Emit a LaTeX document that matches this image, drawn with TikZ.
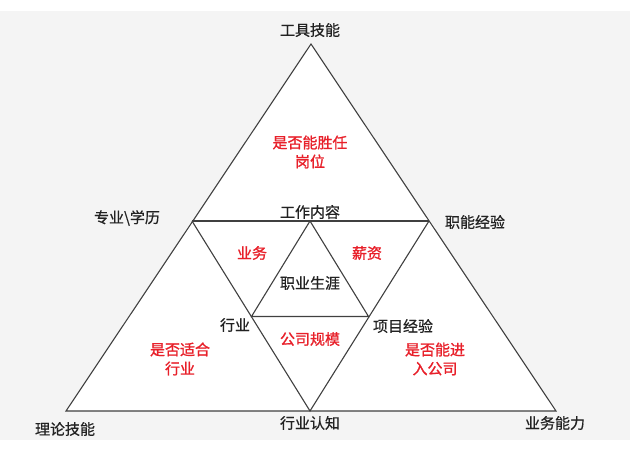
\documentclass[tikz,border=0pt]{standalone}
\usepackage{fontspec}
\setmainfont{Noto Sans CJK SC}
\newfontfamily\lblfont[FakeBold=0.6]{Noto Sans CJK SC}
\newfontfamily\redfont[FakeBold=1.2]{Noto Sans CJK SC}
\definecolor{bggray}{HTML}{F4F4F4}
\definecolor{linegray}{HTML}{404040}
\definecolor{txtred}{HTML}{E8202A}
\definecolor{txtblack}{HTML}{222222}
\tikzset{
  edge/.style={draw=linegray, line width=1.1pt, line join=miter},
  lbl/.style={text=txtblack, font=\lblfont\fontsize{15}{17}\selectfont, inner sep=0pt, align=center},
  rlbl/.style={text=txtred, font=\redfont\fontsize{15}{19}\selectfont, inner sep=0pt, align=center}
}
\begin{document}
\begin{tikzpicture}[x=1pt,y=-1pt]
\useasboundingbox (0,0) rectangle (630,449);
\fill[bggray] (0,11) rectangle (630,440);
\coordinate (A) at (311,44);
\coordinate (B) at (66,411);
\coordinate (C) at (556,411);
\coordinate (L) at (192,221);
\coordinate (R) at (429,221);
\coordinate (M) at (310,411);
\coordinate (I) at (310,221);
\coordinate (P) at (251.5,316.5);
\coordinate (Q) at (368.5,316.5);
\filldraw[edge, fill=white] (A) -- (B) -- (C) -- cycle;
\draw[edge] (L) -- (R);
\draw[edge] (L) -- (M) -- (R);
\draw[edge] (I) -- (P) -- (Q) -- cycle;
% labels
\node[lbl] (t1) at (310,30) {工具技能};
\node[rlbl] (t2) at (310,152) {是否能胜任\\岗位};
\node[lbl] (t3) at (127,218) {专业\textbackslash 学历};
\node[lbl] (t4) at (475,222) {职能经验};
\node[lbl] (t5) at (310,212) {工作内容};
\node[rlbl] (t6) at (252,253) {业务};
\node[rlbl] (t7) at (367,253) {薪资};
\node[lbl] (t8) at (310,283) {职业生涯};
\node[lbl] (t9) at (235,325) {行业};
\node[lbl] (t10) at (403,326) {项目经验};
\node[rlbl] (t11) at (310,339) {公司规模};
\node[rlbl] (t12) at (180,359) {是否适合\\行业};
\node[rlbl] (t13) at (435,359) {是否能进\\入公司};
\node[lbl] (t14) at (65,429) {理论技能};
\node[lbl] (t15) at (310,423) {行业认知};
\node[lbl] (t16) at (555,423) {业务能力};
\end{tikzpicture}
\end{document}
